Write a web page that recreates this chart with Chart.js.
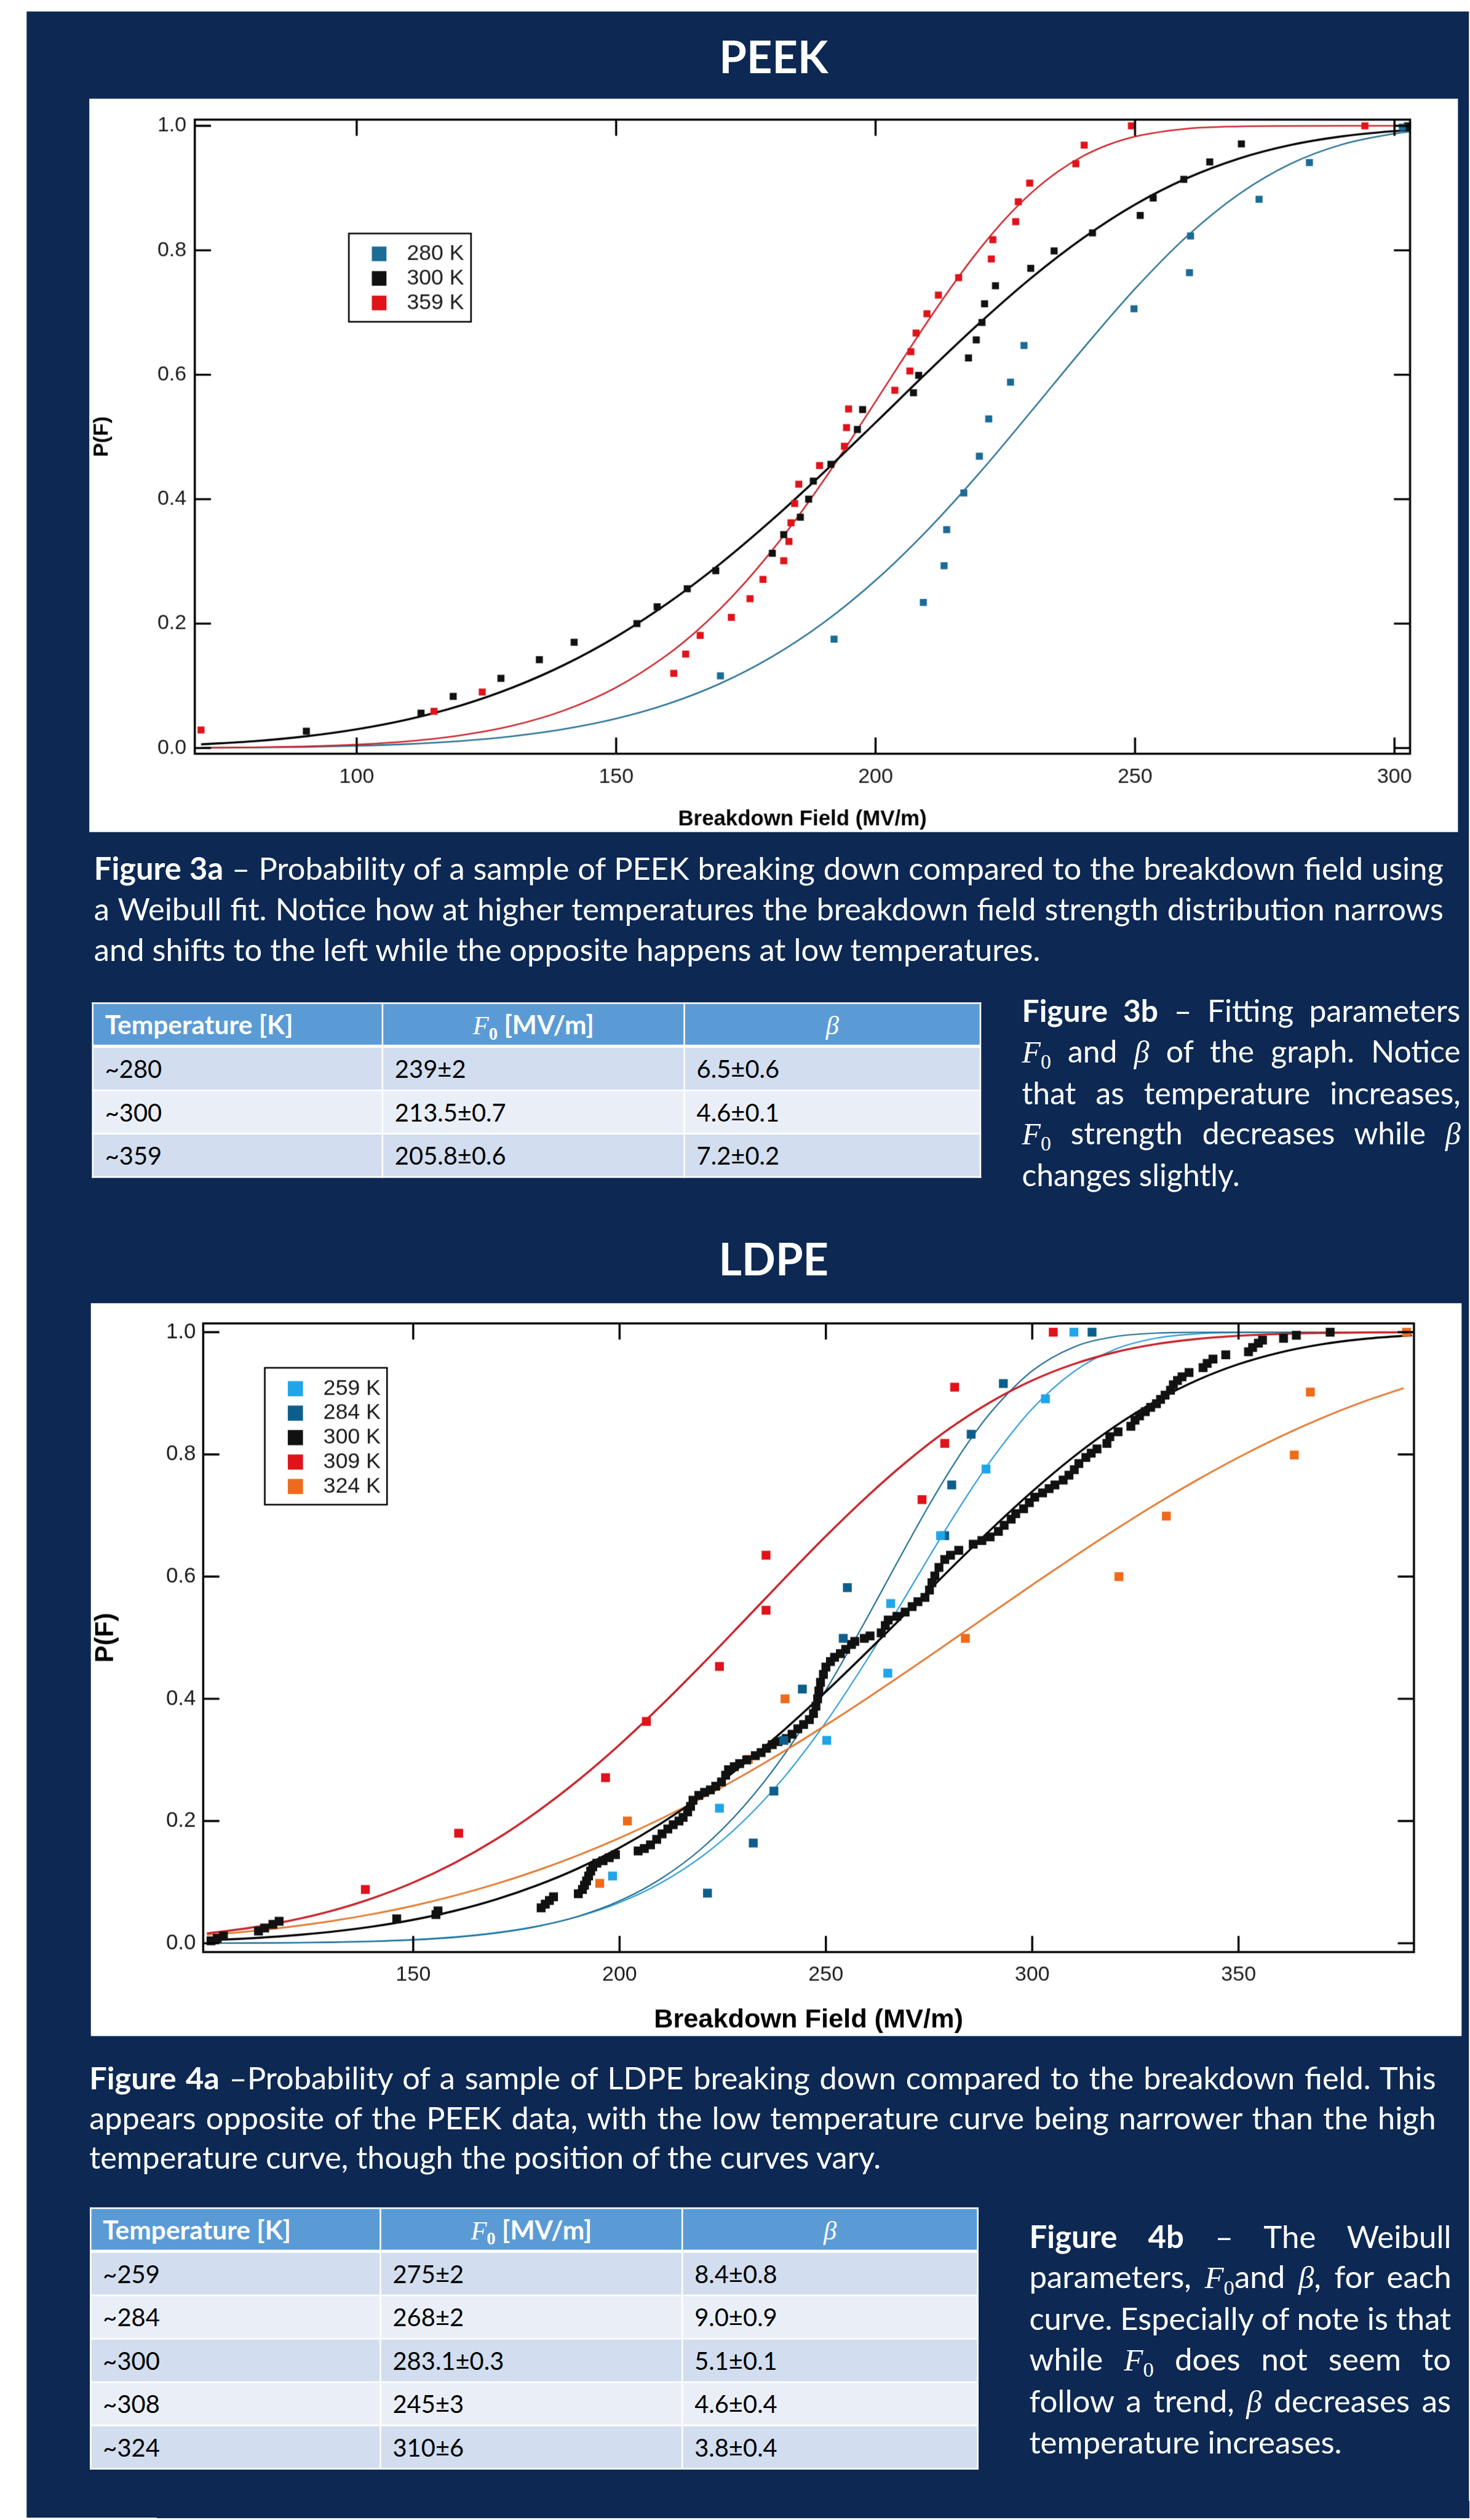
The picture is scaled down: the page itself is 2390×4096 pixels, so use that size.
<!DOCTYPE html>
<html>
<head>
<meta charset="utf-8">
<script src="https://cdn.jsdelivr.net/npm/chart.js@4.4.1/dist/chart.umd.min.js"></script>
<style>
html, body { margin: 0; padding: 0; background: #fff; overflow: hidden; }
#page { position: relative; width: 2813px; height: 4820px; transform: scale(0.849); transform-origin: 0 0; }
.navy { position: absolute; left: 51px; top: 22px; right: 0; bottom: 0; background: #0c2853; }
.ttl { position: absolute; left: 171px; width: 2621px; text-align: center; color: #fff;
       font-family: Lato, sans-serif; font-weight: 700; font-size: 85px; line-height: 1.2; }
.panel { position: absolute; background: #fff; }
.panel canvas { display: block; }
.blk { position: absolute; color: #fff; font-family: Lato, sans-serif; font-size: 57px; }
.ln { white-space: nowrap; }
.ln > span { display: inline-block; transform-origin: 0 50%; }
.m { font-family: "Liberation Serif", "DejaVu Serif", serif; font-style: italic; }
sub { font-family: "Liberation Serif", "DejaVu Serif", serif; font-style: normal; font-size: 0.68em; vertical-align: -0.3em; line-height: 0; }
.tb { position: absolute; border-collapse: collapse; table-layout: fixed; font-family: Lato, sans-serif; font-size: 47px; }
.tb th, .tb td { border: 3px solid #fff; padding: 0 0 0 22px; text-align: left; color: #000; font-weight: 400; }
.tb th { background: #5b9bd5; color: #fff; font-weight: 700; font-size: 50px; height: 78px; border-bottom-width: 6px; }
.tb th.c { text-align: center; padding: 0; }
.tb td { height: 80px; }
.tb tr.o td { background: #d2deef; }
.tb tr.e td { background: #eaeff7; }
</style>
</head>
<body>
<div id="page">
  <div class="navy"></div>

  <div class="ttl" style="top:56px">PEEK</div>
  <div class="panel" style="left:171px;top:189px;width:2621px;height:1404px"><canvas id="peekChart"></canvas></div>

  <div class="blk" data-base="1684" data-lh="78" data-last="1812" style="left:180px;top:1623px;width:2584px;line-height:78px">
    <div class="ln j"><span><b>Figure 3a</b> – Probability of a sample of PEEK breaking down compared to the breakdown field using</span></div>
    <div class="ln j"><span>a Weibull fit. Notice how at higher temperatures the breakdown field strength distribution narrows</span></div>
    <div class="ln"><span>and shifts to the left while the opposite happens at low temperatures.</span></div>
  </div>

  <table class="tb" style="left:176px;top:1919px;width:1700px">
    <colgroup><col style="width:555px"><col style="width:578px"><col style="width:567px"></colgroup>
    <tr><th>Temperature [K]</th><th class="c"><span class="m" style="font-weight:400">F</span><sub>0</sub> [MV/m]</th><th class="c"><span class="m" style="font-weight:400">β</span></th></tr>
    <tr class="o"><td>~280</td><td>239±2</td><td>6.5±0.6</td></tr>
    <tr class="e"><td>~300</td><td>213.5±0.7</td><td>4.6±0.1</td></tr>
    <tr class="o"><td>~359</td><td>205.8±0.6</td><td>7.2±0.2</td></tr>
  </table>

  <div class="blk" data-base="1957" data-lh="76.5" data-last="417" style="left:1957px;top:1896px;width:840px;line-height:76.5px">
    <div class="ln j"><span><b>Figure 3b</b> – Fitting parameters</span></div>
    <div class="ln j"><span><span class="m">F</span><sub>0</sub> and <span class="m">β</span> of the graph. Notice</span></div>
    <div class="ln j"><span>that as temperature increases,</span></div>
    <div class="ln j"><span><span class="m">F</span><sub>0</sub> strength decreases while <span class="m">β</span></span></div>
    <div class="ln"><span>changes slightly.</span></div>
  </div>

  <div class="ttl" style="top:2358px">LDPE</div>
  <div class="panel" style="left:174px;top:2495px;width:2625px;height:1403px"><canvas id="ldpeChart"></canvas></div>

  <div class="blk" data-base="4000" data-lh="76" data-last="1516" style="left:171px;top:3940px;width:2579px;line-height:76px">
    <div class="ln j"><span><b>Figure 4a</b> –Probability of a sample of LDPE breaking down compared to the breakdown field. This</span></div>
    <div class="ln j"><span>appears opposite of the PEEK data, with the low temperature curve being narrower than the high</span></div>
    <div class="ln"><span>temperature curve, though the position of the curves vary.</span></div>
  </div>

  <table class="tb" style="left:172px;top:4226px;width:1699px">
    <colgroup><col style="width:555px"><col style="width:578px"><col style="width:566px"></colgroup>
    <tr><th>Temperature [K]</th><th class="c"><span class="m" style="font-weight:400">F</span><sub>0</sub> [MV/m]</th><th class="c"><span class="m" style="font-weight:400">β</span></th></tr>
    <tr class="o"><td>~259</td><td>275±2</td><td>8.4±0.8</td></tr>
    <tr class="e"><td>~284</td><td>268±2</td><td>9.0±0.9</td></tr>
    <tr class="o"><td>~300</td><td>283.1±0.3</td><td>5.1±0.1</td></tr>
    <tr class="e"><td>~308</td><td>245±3</td><td>4.6±0.4</td></tr>
    <tr class="o"><td>~324</td><td>310±6</td><td>3.8±0.4</td></tr>
  </table>

  <div class="blk" data-base="4305" data-lh="76.8" data-last="599" style="left:1971px;top:4244px;width:808px;line-height:76.8px">
    <div class="ln j"><span><b>Figure 4b</b> –  The Weibull</span></div>
    <div class="ln j"><span>parameters, <span class="m">F</span><sub>0</sub>and <span class="m">β</span>, for each</span></div>
    <div class="ln j"><span>curve. Especially of note is that</span></div>
    <div class="ln j"><span>while <span class="m">F</span><sub>0</sub> does not seem to</span></div>
    <div class="ln j"><span>follow a trend, <span class="m">β</span> decreases as</span></div>
    <div class="ln"><span>temperature increases.</span></div>
  </div>
</div>

<script>
// scale of the page against the reference poster
const K = 0.849;

// PEEK - measured points (breakdown field MV/m, cumulative probability)
const peek280F = [170.1, 192.0, 209.2, 213.2, 213.7, 217.0, 220.0, 221.8, 226.0, 228.6, 249.8, 260.5, 260.7, 273.9, 283.6, 301.5];
const peek280P = [0.116, 0.175, 0.234, 0.293, 0.351, 0.410, 0.469, 0.529, 0.588, 0.647, 0.706, 0.764, 0.823, 0.882, 0.941, 0.998];
const peek300F = [90.3, 112.4, 118.6, 127.8, 135.2, 141.9, 154.0, 157.9, 163.7, 169.2, 180.1, 182.3, 185.5, 187.1, 188.0, 191.4, 196.5, 197.5, 207.3, 208.3,
                  217.9, 219.4, 220.5, 221.0, 223.1, 229.9, 234.4, 241.8, 251.0, 253.5, 259.4, 264.4, 270.5, 302.5];
const peek300P = [0.027, 0.056, 0.083, 0.112, 0.142, 0.170, 0.200, 0.227, 0.256, 0.285, 0.313, 0.343, 0.371, 0.400, 0.429, 0.456, 0.512, 0.544, 0.571, 0.599,
                  0.627, 0.656, 0.684, 0.714, 0.743, 0.771, 0.799, 0.828, 0.856, 0.884, 0.914, 0.942, 0.971, 1.000];
const peek359F = [70.0, 114.9, 124.2, 161.1, 163.4, 166.2, 172.2, 175.8, 178.3, 182.3, 183.3, 183.7, 184.4, 185.2, 189.2, 194.0, 194.4, 194.8, 203.7, 206.6,
                  206.8, 207.8, 209.9, 212.1, 216.0, 222.3, 222.6, 227.0, 227.5, 229.7, 238.6, 240.2, 249.3, 294.3];
const peek359P = [0.029, 0.059, 0.090, 0.120, 0.151, 0.181, 0.210, 0.240, 0.271, 0.301, 0.332, 0.362, 0.393, 0.424, 0.454, 0.485, 0.515, 0.545, 0.575, 0.606,
                  0.637, 0.667, 0.698, 0.728, 0.756, 0.786, 0.817, 0.846, 0.878, 0.908, 0.939, 0.969, 1.000, 1.000];

// PEEK - Weibull fit curves
const peekFitF = [70, 80, 90, 100, 110, 120, 130, 140, 150, 160, 170, 180, 190, 200, 210, 220, 230, 240, 250, 260, 270, 280, 290, 300, 303];
const fit280P = [0.0003, 0.0008, 0.0017, 0.0035, 0.0064, 0.0113, 0.0189, 0.0304, 0.0472, 0.0710, 0.1034, 0.1465, 0.2015, 0.2695, 0.3503, 0.4420, 0.5412,
                 0.6420, 0.7381, 0.8225, 0.8901, 0.9391, 0.9703, 0.9875, 0.9907];
const fit300P = [0.0059, 0.0109, 0.0186, 0.0301, 0.0462, 0.0682, 0.0971, 0.1337, 0.1789, 0.2331, 0.2958, 0.3664, 0.4429, 0.5231, 0.6042, 0.6828, 0.7556,
                 0.8197, 0.8735, 0.9159, 0.9474, 0.9693, 0.9833, 0.9916, 0.9933];
const fit359F = [70, 80, 90, 100, 110, 120, 130, 140, 150, 160, 165, 170, 175, 180, 185, 190, 195, 200, 205, 210, 215, 220, 225, 230, 235, 240, 245, 250,
                 260, 270, 280, 290, 300, 303];
const fit359P = [0.0004, 0.0011, 0.0026, 0.0055, 0.0109, 0.0204, 0.0359, 0.0605, 0.0974, 0.1507, 0.1843, 0.2232, 0.2675, 0.3171, 0.3715, 0.4302, 0.4926,
                 0.5569, 0.6218, 0.6854, 0.7458, 0.8014, 0.8506, 0.8922, 0.9257, 0.9514, 0.9701, 0.9828, 0.9954, 0.9991, 0.9999, 1.0, 1.0, 1.0];

// LDPE - measured points
const ldpe259F = [198.3, 224.2, 250.2, 265.0, 265.7, 277.8, 288.8, 303.2, 310.1];
const ldpe259P = [0.110, 0.221, 0.332, 0.442, 0.556, 0.667, 0.776, 0.891, 1.000];
const ldpe284F = [221.3, 232.4, 237.4, 239.8, 244.3, 254.2, 255.2, 278.8, 280.5, 285.2, 293.0, 314.5];
const ldpe284P = [0.082, 0.164, 0.249, 0.332, 0.416, 0.499, 0.582, 0.667, 0.750, 0.833, 0.916, 1.000];
const ldpe300F = [101.0, 102.5, 104.0, 112.5, 114.0, 116.0, 117.5, 146.0, 155.5, 156.0, 181.0, 182.0, 183.0, 184.0, 190.0, 191.0, 191.5, 192.0, 192.5, 193.0,
                  193.5, 194.5, 196.0, 197.5, 199.0, 204.5, 206.0, 207.5, 209.0, 210.3, 211.7, 213.0, 214.4, 215.4, 216.5, 217.2, 217.8, 219.2, 220.6, 222.0,
                  223.3, 224.7, 225.7, 226.4, 227.8, 229.1, 230.8, 232.9, 234.3, 235.6, 237.0, 238.4, 240.4, 241.8, 243.2, 244.6, 246.0, 247.0, 247.6, 248.0,
                  248.3, 248.7, 249.4, 250.0, 251.1, 252.1, 253.5, 254.8, 256.2, 257.0, 259.3, 260.7, 263.4, 264.4, 265.1, 267.2, 269.2, 270.9, 272.3, 274.0,
                  275.1, 275.7, 276.4, 277.4, 278.8, 280.2, 282.2, 285.7, 287.8, 289.8, 291.8, 293.2, 294.9, 296.0, 297.9, 299.3, 300.6, 302.5, 304.1, 305.5,
                  307.5, 308.9, 310.2, 311.3, 313.0, 314.3, 315.7, 318.1, 318.8, 320.8, 323.9, 324.9, 326.0, 327.4, 328.7, 330.1, 331.1, 332.2, 333.5, 334.2,
                  335.2, 336.3, 338.0, 341.4, 342.4, 343.8, 346.9, 352.4, 353.4, 354.8, 355.8, 360.9, 364.0, 372.2];
const ldpe300P = [0.004, 0.008, 0.012, 0.020, 0.025, 0.031, 0.036, 0.040, 0.047, 0.053, 0.058, 0.064, 0.070, 0.076, 0.081, 0.088, 0.095, 0.102, 0.110, 0.118,
                  0.125, 0.131, 0.135, 0.140, 0.145, 0.151, 0.155, 0.161, 0.170, 0.179, 0.187, 0.194, 0.200, 0.206, 0.215, 0.224, 0.234, 0.242, 0.247, 0.251,
                  0.257, 0.264, 0.275, 0.284, 0.289, 0.294, 0.300, 0.307, 0.312, 0.319, 0.325, 0.330, 0.335, 0.342, 0.351, 0.358, 0.366, 0.376, 0.388, 0.400,
                  0.413, 0.427, 0.440, 0.452, 0.461, 0.468, 0.474, 0.481, 0.489, 0.494, 0.499, 0.503, 0.508, 0.520, 0.529, 0.535, 0.542, 0.551, 0.559, 0.566,
                  0.578, 0.590, 0.601, 0.615, 0.628, 0.635, 0.643, 0.653, 0.659, 0.665, 0.674, 0.684, 0.694, 0.703, 0.711, 0.721, 0.730, 0.737, 0.744, 0.750,
                  0.758, 0.766, 0.775, 0.785, 0.795, 0.802, 0.809, 0.818, 0.829, 0.837, 0.846, 0.856, 0.863, 0.870, 0.877, 0.883, 0.890, 0.897, 0.905, 0.914,
                  0.921, 0.927, 0.934, 0.942, 0.949, 0.956, 0.963, 0.968, 0.975, 0.982, 0.987, 0.990, 0.995, 1.000];
const ldpe309F = [138.4, 161.0, 196.6, 206.5, 224.2, 235.5, 235.5, 273.3, 278.8, 281.2, 305.1];
const ldpe309P = [0.088, 0.180, 0.271, 0.363, 0.453, 0.545, 0.635, 0.726, 0.818, 0.910, 1.000];
const ldpe324F = [195.2, 201.9, 231.2, 240.1, 283.8, 321.0, 332.5, 363.5, 367.4, 390.7];
const ldpe324P = [0.098, 0.200, 0.301, 0.400, 0.499, 0.600, 0.699, 0.799, 0.902, 1.000];

// LDPE - Weibull fit curves
const fit259F = [100, 110, 120, 130, 140, 150, 160, 170, 180, 190, 200, 210, 220, 230, 240, 250, 260, 265, 270, 275, 280, 285, 290, 300, 310, 320, 330,
                 340, 350, 360, 370, 380, 392];
const fit259P = [0.0002, 0.0005, 0.0009, 0.0018, 0.0034, 0.0061, 0.0105, 0.0174, 0.0280, 0.0438, 0.0666, 0.0986, 0.1422, 0.1998, 0.2727, 0.3618, 0.4644,
                 0.5192, 0.5755, 0.6321, 0.6875, 0.7407, 0.7903, 0.8747, 0.9351, 0.9719, 0.9902, 0.9974, 0.9995, 0.9999, 1.0, 1.0, 1.0];
const fit284F = [100, 110, 120, 130, 140, 150, 160, 170, 180, 190, 200, 210, 220, 230, 240, 250, 255, 260, 265, 270, 275, 280, 285, 290, 300, 310, 320,
                 330, 340, 350, 360, 380, 392];
const fit284P = [0.0001, 0.0003, 0.0007, 0.0015, 0.0029, 0.0054, 0.0096, 0.0165, 0.0274, 0.0442, 0.0693, 0.1054, 0.1557, 0.2232, 0.3094, 0.4144, 0.4724,
                 0.5329, 0.5948, 0.6566, 0.7168, 0.7731, 0.8244, 0.8692, 0.9367, 0.9755, 0.9928, 0.9985, 0.9998, 1.0, 1.0, 1.0, 1.0];
const ldpeFitF = [100, 110, 120, 130, 140, 150, 160, 170, 180, 190, 200, 210, 220, 230, 240, 250, 260, 270, 280, 290, 300, 310, 320, 330, 340, 350, 360,
                  370, 380, 390, 392];
const fit300LP = [0.0049, 0.0080, 0.0125, 0.0187, 0.0272, 0.0384, 0.0530, 0.0715, 0.0946, 0.1226, 0.1563, 0.1959, 0.2414, 0.2930, 0.3499, 0.4117, 0.4769,
                  0.5440, 0.6115, 0.6772, 0.7393, 0.7959, 0.8456, 0.8876, 0.9215, 0.9477, 0.9668, 0.9801, 0.9888, 0.9940, 0.9948];
const fit309P = [0.0161, 0.0248, 0.0368, 0.0527, 0.0733, 0.0993, 0.1313, 0.1698, 0.2151, 0.2669, 0.3250, 0.3886, 0.4563, 0.5265, 0.5972, 0.6663, 0.7313,
                 0.7905, 0.8425, 0.8861, 0.9210, 0.9477, 0.9671, 0.9805, 0.9890, 0.9942, 0.9972, 0.9987, 0.9995, 0.9998, 0.9998];
const fit324F = [100, 110, 120, 130, 140, 150, 160, 170, 180, 190, 200, 210, 220, 230, 240, 250, 260, 270, 280, 290, 300, 310, 320, 330, 340, 350, 360,
                 370, 380, 390];
const fit324P = [0.0135, 0.0193, 0.0268, 0.0361, 0.0476, 0.0614, 0.0778, 0.0970, 0.1190, 0.1441, 0.1723, 0.2036, 0.2378, 0.2750, 0.3148, 0.3570, 0.4010,
                 0.4465, 0.4930, 0.5398, 0.5864, 0.6321, 0.6763, 0.7187, 0.7583, 0.7952, 0.8288, 0.8590, 0.8856, 0.9086];

// tick labels
const peekXTicks = [100, 150, 200, 250, 300];
const ldpeXTicks = [150, 200, 250, 300, 350];
const probTicks = [0, 0.2, 0.4, 0.6, 0.8, 1.0];

Chart.defaults.font.family = '"Liberation Sans", Arial, Helvetica, sans-serif';

function pts(xs, ys) {
  return xs.map((x, i) => ({ x: x, y: ys[i] }));
}

function pointSet(label, xs, ys, color, r) {
  return {
    label: label, data: pts(xs, ys), backgroundColor: color, borderWidth: 0,
    pointStyle: 'rect', pointRadius: r, pointHoverRadius: r, showLine: false, clip: false, inLegend: true
  };
}

function fitSet(xs, ys, color, w) {
  return {
    data: pts(xs, ys), borderColor: color, borderWidth: w, pointRadius: 0,
    showLine: true, cubicInterpolationMode: 'monotone', fill: false
  };
}

// box frame with inward ticks on all four sides
const framePlugin = {
  id: 'frame',
  afterDatasetsDraw(chart, args, o) {
    const { ctx, chartArea: a, scales: { x, y } } = chart;
    ctx.save();
    ctx.strokeStyle = '#000';
    ctx.lineWidth = o.tickWidth;
    ctx.beginPath();
    x.ticks.forEach(t => {
      const px = x.getPixelForValue(t.value);
      ctx.moveTo(px, a.bottom); ctx.lineTo(px, a.bottom - o.tickLen);
      ctx.moveTo(px, a.top); ctx.lineTo(px, a.top + o.tickLen);
    });
    y.ticks.forEach(t => {
      const py = y.getPixelForValue(t.value);
      ctx.moveTo(a.left, py); ctx.lineTo(a.left + o.tickLen, py);
      ctx.moveTo(a.right, py); ctx.lineTo(a.right - o.tickLen, py);
    });
    ctx.stroke();
    ctx.lineWidth = o.lineWidth;
    ctx.strokeRect(a.left, a.top, a.right - a.left, a.bottom - a.top);
    ctx.restore();
  }
};

// boxed legend inside the plot, like the original
const boxLegend = {
  id: 'boxLegend',
  afterDatasetsDraw(chart, args, o) {
    const { ctx, chartArea: a } = chart;
    const x0 = a.left + o.dx, y0 = a.top + o.dy;
    ctx.save();
    ctx.fillStyle = '#fff';
    ctx.fillRect(x0, y0, o.w, o.h);
    ctx.lineWidth = 3;
    ctx.strokeStyle = '#000';
    ctx.strokeRect(x0, y0, o.w, o.h);
    ctx.font = o.fontSize + 'px "Liberation Sans", Arial, sans-serif';
    ctx.textBaseline = 'middle';
    ctx.textAlign = 'left';
    chart.data.datasets.filter(d => d.inLegend).forEach((d, i) => {
      const cy = y0 + o.firstRow + i * o.rowGap;
      ctx.fillStyle = d.backgroundColor;
      ctx.fillRect(x0 + o.swatchX, cy - o.swatch / 2, o.swatch, o.swatch);
      ctx.fillStyle = '#1a1a1a';
      ctx.fillText(d.label, x0 + o.textX, cy);
    });
    ctx.restore();
  }
};

function makeChart(id, datasets, o) {
  return new Chart(document.getElementById(id), {
    type: 'scatter',
    data: { datasets: datasets },
    options: {
      animation: false,
      responsive: true,
      maintainAspectRatio: false,
      devicePixelRatio: K,
      events: [],
      layout: { padding: { top: o.padTop, right: o.padRight, left: 0, bottom: 0 } },
      plugins: {
        legend: { display: false },
        tooltip: { enabled: false },
        frame: { lineWidth: 4, tickWidth: 4, tickLen: 31 },
        boxLegend: o.legend
      },
      scales: {
        x: {
          type: 'linear', min: o.xMin, max: o.xMax,
          grid: { display: false, drawTicks: false },
          border: { display: false },
          afterBuildTicks: s => { s.ticks = o.xTicks.map(v => ({ value: v })); },
          afterFit: s => { s.height = o.xAxisH; },
          ticks: { padding: o.xPad, color: '#1a1a1a', font: { size: 40 }, autoSkip: false, maxRotation: 0, callback: v => String(v) },
          title: { display: true, text: 'Breakdown Field (MV/m)', color: '#000', font: { size: o.xTitle, weight: 'bold' }, padding: 0 }
        },
        y: {
          type: 'linear', min: o.yMin, max: o.yMax,
          grid: { display: false, drawTicks: false },
          border: { display: false },
          afterBuildTicks: s => { s.ticks = probTicks.map(v => ({ value: v })); },
          afterFit: s => { s.width = o.yAxisW; },
          ticks: { padding: o.yPad, color: '#1a1a1a', font: { size: o.yFont }, autoSkip: false, callback: v => v.toFixed(1) },
          title: { display: true, text: 'P(F)', color: '#000', font: { size: o.yTitle, weight: 'bold' }, padding: 0 }
        }
      }
    },
    plugins: [framePlugin, boxLegend]
  });
}

makeChart('peekChart', [
  pointSet('280 K', peek280F, peek280P, '#1b6b96', 9.5),
  pointSet('300 K', peek300F, peek300P, '#111111', 9.5),
  pointSet('359 K', peek359F, peek359P, '#e0131b', 9.5),
  fitSet(peekFitF, fit300P, '#000000', 4),
  fitSet(fit359F, fit359P, '#cc252c', 3),
  fitSet(peekFitF, fit280P, '#2b7396', 3)
], {
  padTop: 35, padRight: 92, xAxisH: 150, yAxisW: 202,
  xMin: 68.8, xMax: 303.0, yMin: -0.0092, yMax: 1.0100,
  xTicks: peekXTicks, xPad: 21, yPad: 16, yFont: 40, xTitle: 41, yTitle: 40,
  legend: { dx: 295, dy: 218, w: 234, h: 169, swatchX: 44, swatch: 28, textX: 111, firstRow: 39, rowGap: 47, fontSize: 42 }
});

makeChart('ldpeChart', [
  pointSet('259 K', ldpe259F, ldpe259P, '#1fa5e8', 12),
  pointSet('284 K', ldpe284F, ldpe284P, '#0e5e8c', 12),
  pointSet('300 K', ldpe300F, ldpe300P, '#111111', 12),
  pointSet('309 K', ldpe309F, ldpe309P, '#e2121a', 12),
  pointSet('324 K', ldpe324F, ldpe324P, '#ee6b1c', 12),
  fitSet(ldpeFitF, fit300LP, '#000000', 4),
  fitSet(ldpeFitF, fit309P, '#c8232b', 4),
  fitSet(fit324F, fit324P, '#e47b34', 3.5),
  fitSet(fit284F, fit284P, '#1d6b8e', 2.5),
  fitSet(fit259F, fit259P, '#2a9bd6', 2.5)
], {
  padTop: 30, padRight: 92, xAxisH: 161, yAxisW: 215,
  xMin: 99.1, xMax: 392.5, yMin: -0.0144, yMax: 1.0144,
  xTicks: ldpeXTicks, xPad: 20, yPad: 14, yFont: 41, xTitle: 51, yTitle: 49,
  legend: { dx: 118, dy: 85, w: 234, h: 262, swatchX: 44, swatch: 29, textX: 112, firstRow: 40, rowGap: 46.8, fontSize: 42 }
});

// size each caption so its last line is as long as in the poster,
// then justify the other lines to the column width
function fitText() {
  document.querySelectorAll('.blk').forEach(blk => {
    const lines = Array.from(blk.querySelectorAll('.ln'));
    const base = parseFloat(getComputedStyle(blk).fontSize);
    const last = lines[lines.length - 1].firstElementChild;
    let f = base * parseFloat(blk.dataset.last) / last.offsetWidth;
    f = Math.max(base * 0.88, Math.min(base * 1.12, f));
    blk.style.fontSize = f + 'px';
    const lh = parseFloat(blk.dataset.lh);
    blk.style.top = (parseFloat(blk.dataset.base) - (lh / 2 + 0.387 * f)) + 'px';
    const W = blk.clientWidth;
    lines.forEach(ln => {
      if (!ln.classList.contains('j')) return;
      const sp = ln.firstElementChild;
      const w = sp.offsetWidth;
      const gaps = (sp.textContent.trim().match(/\s+/g) || []).length;
      if (w > W) {
        sp.style.transform = 'scaleX(' + (W / w) + ')';
      } else if (gaps) {
        sp.style.wordSpacing = ((W - w) / gaps) + 'px';
      }
    });
  });
}

document.fonts.ready.then(fitText);
</script>
</body>
</html>
